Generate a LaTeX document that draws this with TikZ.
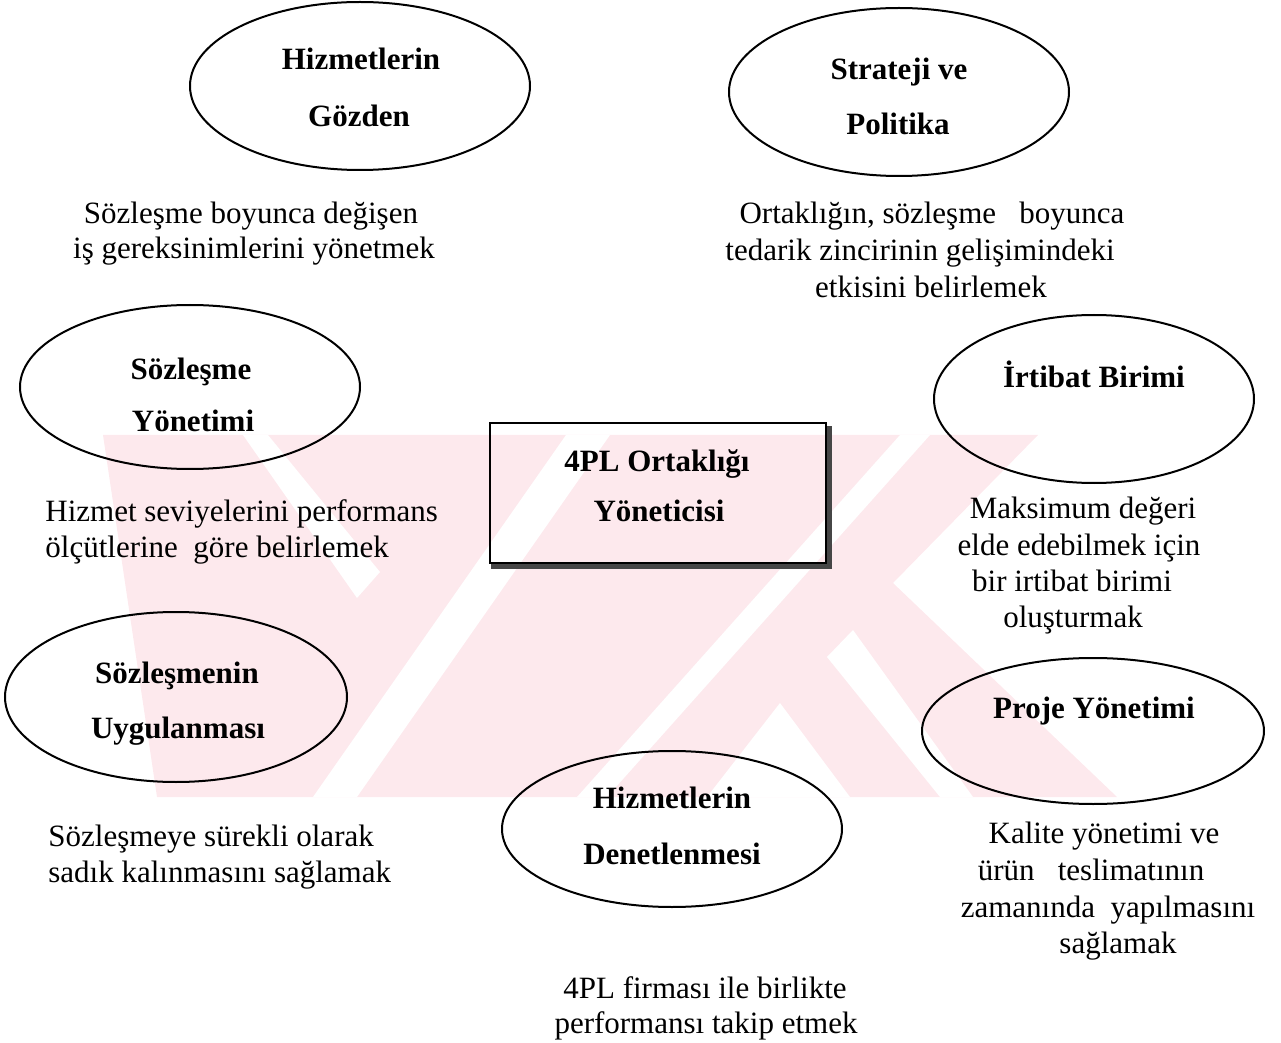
\documentclass[tikz,border=0pt]{standalone}
\usepackage{fontspec}
\setmainfont{Liberation Serif}
\usetikzlibrary{shapes.geometric}
\definecolor{wmpink}{RGB}{253,233,237}
\definecolor{shadowgray}{RGB}{70,70,70}
\begin{document}
\begin{tikzpicture}[x=0.5pt,y=-0.5pt,
  oval/.style={draw, ellipse, line width=1pt, inner sep=0pt},
  frame/.style={draw, rectangle, line width=1pt, inner sep=0pt},
  lbl/.style={font=\fontsize{15.5}{18}\selectfont\bfseries, inner sep=0pt, anchor=base},
  txt/.style={font=\fontsize{15.5}{18}\selectfont, inner sep=0pt, anchor=base},
  txtl/.style={txt, anchor=base west}]
\useasboundingbox (0,0) rectangle (1281,1043);

% faint emblem in the background
\fill[wmpink] (103,435) -- (1038,435) -- (893,583) -- (1117,797) -- (157,797) -- cycle;
\fill[white] (243,435) -- (268,435) -- (380,572) -- (357,598) -- cycle;
\fill[white] (566,435) -- (610,435) -- (357,797) -- (313,797) -- cycle;
\fill[white] (900,435) -- (930,435) -- (607,797) -- (577,797) -- cycle;
\fill[white] (827,657) -- (853,630) -- (973,797) -- (940,797) -- cycle;
\fill[white] (780,703) -- (850,797) -- (707,797) -- cycle;

% ovals
\node[oval, minimum width=170pt, minimum height=84pt] (gozden) at (360,86) {};
\node[oval, minimum width=170pt, minimum height=84pt] (strateji) at (899,92) {};
\node[oval, minimum width=170pt, minimum height=82pt] (szyon) at (190,387) {};
\node[oval, minimum width=160pt, minimum height=84pt] (irtibat) at (1094,399) {};
\node[oval, minimum width=171pt, minimum height=85pt] (uyg) at (176,697) {};
\node[oval, minimum width=171pt, minimum height=73pt] (proje) at (1093,731) {};
\node[oval, minimum width=170pt, minimum height=78pt] (denet) at (672,829) {};

% central box with its shadow
\node[frame, minimum width=168pt, minimum height=70pt] (yonetici) at (658,493) {};
\fill[shadowgray] ([yshift=-2pt]yonetici.north east) rectangle ([xshift=2.5pt,yshift=-2.5pt]yonetici.south east);
\fill[shadowgray] ([xshift=1pt]yonetici.south west) rectangle ([xshift=2.5pt,yshift=-2.5pt]yonetici.south east);

% labels and descriptions
\node[lbl] (gozden1) at (361,70) {Hizmetlerin};
\node[lbl] (gozden2) at (359,127) {Gözden};
\node[txt] (gozdenA) at (251,224) {Sözleşme boyunca değişen};
\node[txt] (gozdenB) at (254,259) {iş gereksinimlerini yönetmek};

\node[lbl] (strat1) at (899,80) {Strateji ve};
\node[lbl] (strat2) at (898,135) {Politika};
\node[txt] (stratA) at (932,224) {Ortaklığın, sözleşme\ \ \ boyunca};
\node[txt] (stratB) at (920,261) {tedarik zincirinin gelişimindeki};
\node[txt] (stratC) at (931,298) {etkisini belirlemek};

\node[lbl] (szyon1) at (191,380) {Sözleşme};
\node[lbl] (szyon2) at (193,432) {Yönetimi};
\node[txtl] (szyonA) at (45,521) {Hizmet seviyelerini performans};
\node[txtl] (szyonB) at (45,557) {ölçütlerine\ \ göre belirlemek};

\node[lbl] (yon1) at (657,472) {4PL Ortaklığı};
\node[lbl] (yon2) at (659,522) {Yöneticisi};

\node[lbl] (irt1) at (1094,388) {İrtibat Birimi};
\node[txt] (irtA) at (1083,518) {Maksimum değeri};
\node[txt] (irtB) at (1079,555) {elde edebilmek için};
\node[txt] (irtC) at (1072,591) {bir irtibat birimi};
\node[txt] (irtD) at (1073,627) {oluşturmak};

\node[lbl] (uyg1) at (177,683) {Sözleşmenin};
\node[lbl] (uyg2) at (178,738) {Uygulanması};
\node[txtl] (uygA) at (48,846) {Sözleşmeye sürekli olarak};
\node[txtl] (uygB) at (48,882) {sadık kalınmasını sağlamak};

\node[lbl] (proje1) at (1094,718) {Proje Yönetimi};
\node[txt] (projeA) at (1104,843) {Kalite yönetimi ve};
\node[txt] (projeB) at (1091,880) {ürün\ \ \ teslimatının};
\node[txt] (projeC) at (1108,917) {zamanında\ \ yapılmasını};
\node[txt] (projeD) at (1118,953) {sağlamak};

\node[lbl] (denet1) at (672,808) {Hizmetlerin};
\node[lbl] (denet2) at (672,864) {Denetlenmesi};
\node[txt] (denetA) at (705,998) {4PL firması ile birlikte};
\node[txt] (denetB) at (706,1033) {performansı takip etmek};
\end{tikzpicture}
\end{document}
